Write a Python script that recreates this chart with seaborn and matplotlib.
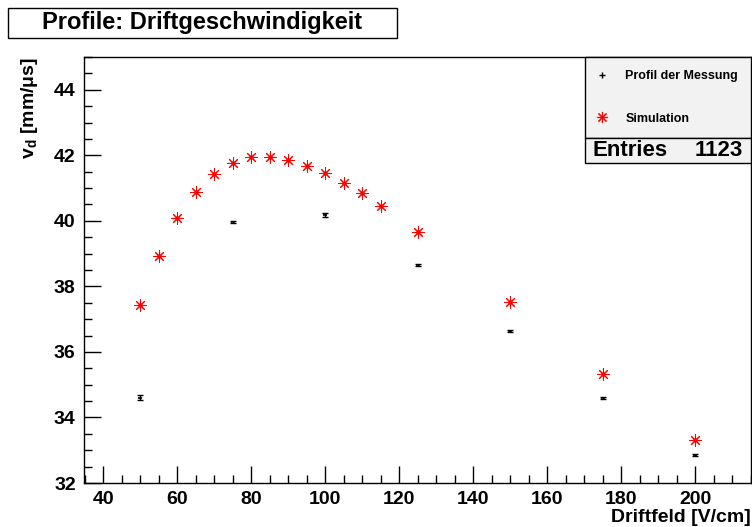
import numpy as np
import pandas as pd
import matplotlib
matplotlib.use("Agg")
import matplotlib.pyplot as plt
from matplotlib.patches import Rectangle
from matplotlib.lines import Line2D
from matplotlib.ticker import MultipleLocator
import seaborn as sns

# Drift field settings [V/cm] and drift velocities [mm/us]
sim_field = [50, 55, 60, 65, 70, 75, 80, 85, 90, 95, 100, 105, 110, 115, 125, 150, 175, 200]
sim_vd = [37.43, 38.93, 40.08, 40.88, 41.43, 41.77, 41.95, 41.96, 41.86, 41.68,
          41.47, 41.16, 40.86, 40.46, 39.66, 37.53, 35.33, 33.31]

meas_field = [50, 75, 100, 125, 150, 175, 200]
meas_vd = [34.60, 39.97, 40.18, 38.66, 36.64, 34.60, 32.86]
meas_err = [0.08, 0.04, 0.05, 0.03, 0.03, 0.03, 0.03]

n_entries = 1123

sns.set_theme(style="white")
plt.rcParams["font.family"] = ["Liberation Sans", "DejaVu Sans"]
plt.rcParams["font.weight"] = "bold"
plt.rcParams["text.color"] = "black"
plt.rcParams["xtick.color"] = "black"
plt.rcParams["ytick.color"] = "black"

W, H = 752, 527
fig = plt.figure(figsize=(W / 100, H / 100), dpi=100)
fig.patch.set_facecolor("white")

def fx(px):
    return px / W

def fy(py):
    return 1 - py / H

ax = fig.add_axes([fx(84), fy(483), fx(751) - fx(84), fy(57) - fy(483)])
ax.set_facecolor("white")

sim_df = pd.DataFrame({"field": sim_field, "vd": sim_vd})
sns.scatterplot(data=sim_df, x="field", y="vd", ax=ax, marker=(8, 2, 0), s=70,
                color="red", edgecolor="red", linewidth=0.75, zorder=3,
                legend=False)
ax.plot(sim_field, sim_vd, linestyle="none", marker="o", markersize=2.2,
        color="red", zorder=4)

ax.errorbar(meas_field, meas_vd, yerr=meas_err, fmt="none", ecolor="black",
            elinewidth=1.0, capsize=2.2, capthick=1.0, zorder=5)
ax.plot(meas_field, meas_vd, linestyle="none", marker="_", markersize=3.5,
        markeredgewidth=1.2, color="black", zorder=6)

ax.set_xlim(34.8, 215)
ax.set_ylim(32, 45)
ax.xaxis.set_major_locator(MultipleLocator(20))
ax.xaxis.set_minor_locator(MultipleLocator(5))
ax.yaxis.set_major_locator(MultipleLocator(2))
ax.yaxis.set_minor_locator(MultipleLocator(0.5))
ax.tick_params(which="both", direction="in", bottom=True, left=True,
               top=False, right=False, color="black", labelcolor="black",
               labelsize=14, pad=6)
ax.tick_params(which="major", length=12, width=1.0)
ax.tick_params(which="minor", length=6, width=1.0)
for lab in ax.get_xticklabels() + ax.get_yticklabels():
    lab.set_fontweight("bold")
for sp in ax.spines.values():
    sp.set_color("black")
    sp.set_linewidth(1.0)

ax.set_xlabel("")
ax.set_ylabel("")
fig.text(fx(751), fy(517), "Driftfeld [V/cm]", ha="right", va="center",
         fontsize=14, fontweight="bold")
fig.text(fx(30), fy(57), r"v$_\mathregular{d}$ [mm/$\mathregular{\mu}$s]",
         rotation=90, ha="center", va="top", fontsize=14, fontweight="bold")

# title box
fig.patches.append(Rectangle((fx(8), fy(38)), fx(397) - fx(8), fy(8) - fy(38),
                             transform=fig.transFigure, facecolor="white",
                             edgecolor="black", linewidth=1.0, zorder=5))
fig.text(fx(202), fy(22), "Profile: Driftgeschwindigkeit", ha="center",
         va="center", fontsize=17, fontweight="bold", zorder=6)

# legend box and statistics box
box_col = "#f2f2f2"
fig.patches.append(Rectangle((fx(585), fy(138)), fx(751) - fx(585), fy(57) - fy(138),
                             transform=fig.transFigure, facecolor=box_col,
                             edgecolor="black", linewidth=1.0, zorder=5))
fig.patches.append(Rectangle((fx(585), fy(163)), fx(751) - fx(585), fy(138) - fy(163),
                             transform=fig.transFigure, facecolor=box_col,
                             edgecolor="black", linewidth=1.0, zorder=5))

h_meas = Line2D([], [], linestyle="none", marker="+", markersize=4,
                markeredgewidth=1.0, color="black")
h_sim = Line2D([], [], linestyle="none", marker=(8, 2, 0), markersize=8,
               markeredgewidth=0.8, color="red")
leg = fig.legend([h_meas, h_sim], ["Profil der Messung", "Simulation"],
                 loc="center left",
                 bbox_to_anchor=(fx(596), fy(138), fx(751) - fx(596), fy(57) - fy(138)),
                 frameon=False, labelspacing=2.45, handlelength=1.0,
                 handletextpad=1.35, borderaxespad=0, borderpad=0,
                 prop={"weight": "bold", "size": 9})
leg.set_zorder(7)

fig.text(fx(593), fy(151), "Entries", ha="left", va="center", fontsize=16,
         fontweight="bold", zorder=8)
fig.text(fx(743), fy(151), str(n_entries), ha="right", va="center", fontsize=16,
         fontweight="bold", zorder=8)

fig.savefig("out.png", dpi=100)
